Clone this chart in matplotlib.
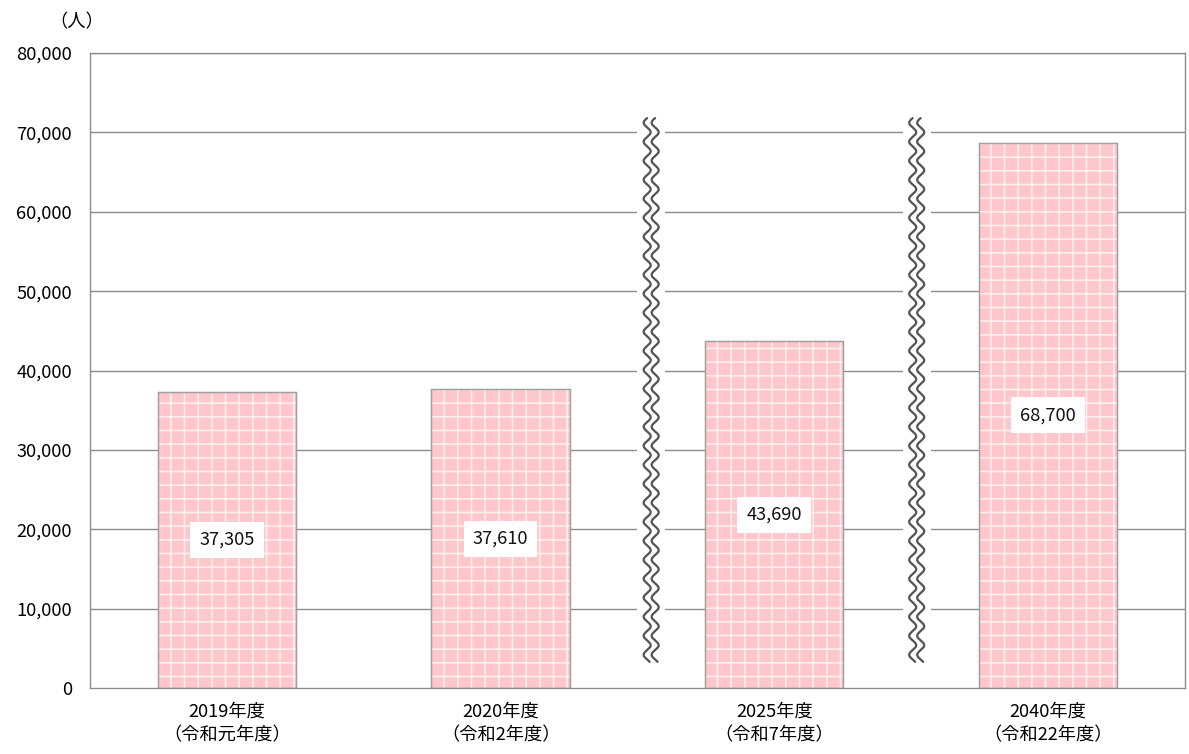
import numpy as np
import matplotlib.pyplot as plt

plt.rcParams['font.family'] = ['Noto Sans CJK JP', 'DejaVu Sans']
plt.rcParams['hatch.linewidth'] = 1.4

years = ['2019年度\n（令和元年度）', '2020年度\n（令和2年度）', '2025年度\n（令和7年度）', '2040年度\n（令和22年度）']
values = [37305, 37610, 43690, 68700]
value_labels = ['37,305', '37,610', '43,690', '68,700']
yticks = [0, 10000, 20000, 30000, 40000, 50000, 60000, 70000, 80000]
ytick_labels = ['0', '10,000', '20,000', '30,000', '40,000', '50,000', '60,000', '70,000', '80,000']
breaks = [1.55, 2.52]

DPI = 82
fig = plt.figure(figsize=(1189 / DPI, 754 / DPI), dpi=DPI)
ax = fig.add_axes([0.0757, 0.0875, 0.9209, 0.8422])

x = np.arange(len(values))
ax.set_xlim(-0.5, 3.5)
ax.set_ylim(0, 80000)

# grid
for t in yticks[1:]:
    ax.axhline(t, color='#8c8c8c', lw=1.2, zorder=1)

# hatched pink bars
ax.bar(x, values, width=0.505, color='#ffc6cb', edgecolor='#fff0f0', hatch='+', linewidth=0, zorder=2)
ax.bar(x, values, width=0.505, facecolor='none', edgecolor='#a0a0a0', linewidth=1.3, zorder=3)

for xi, v, lab in zip(x, values, value_labels):
    ax.text(xi, v / 2, lab, ha='center', va='center', fontsize=16, color='#111111', zorder=5,
            bbox=dict(facecolor='white', edgecolor='none', pad=8))

# wavy break marks
px_x = 1 / 273.75
px_y = 80000 / 635
yy = np.linspace(3300, 71800, 800)
for b in breaks:
    ax.fill_betweenx([2000, 78000], b - 14 * px_x, b + 14 * px_x, color='white', zorder=3.5, linewidth=0)
    for off in (-4, 4):
        xx = b + (off + 3.5 * np.sin(2 * np.pi * (yy / px_y) / 19)) * px_x
        ax.plot(xx, yy, color='#555555', lw=2.0, zorder=4, solid_capstyle='round')

ax.set_yticks(yticks)
ax.set_yticklabels(ytick_labels, fontsize=16)
ax.set_xticks(x)
ax.set_xticklabels(years, fontsize=16, linespacing=1.4)
ax.tick_params(axis='both', length=0)
ax.tick_params(axis='y', pad=16)
ax.tick_params(axis='x', pad=13)
for s in ax.spines.values():
    s.set_color('#8c8c8c')
    s.set_linewidth(1.2)

fig.text(77 / 1189, 1 - 22 / 754, '（人）', ha='center', va='center', fontsize=16)

fig.savefig('out.png', dpi=DPI)
